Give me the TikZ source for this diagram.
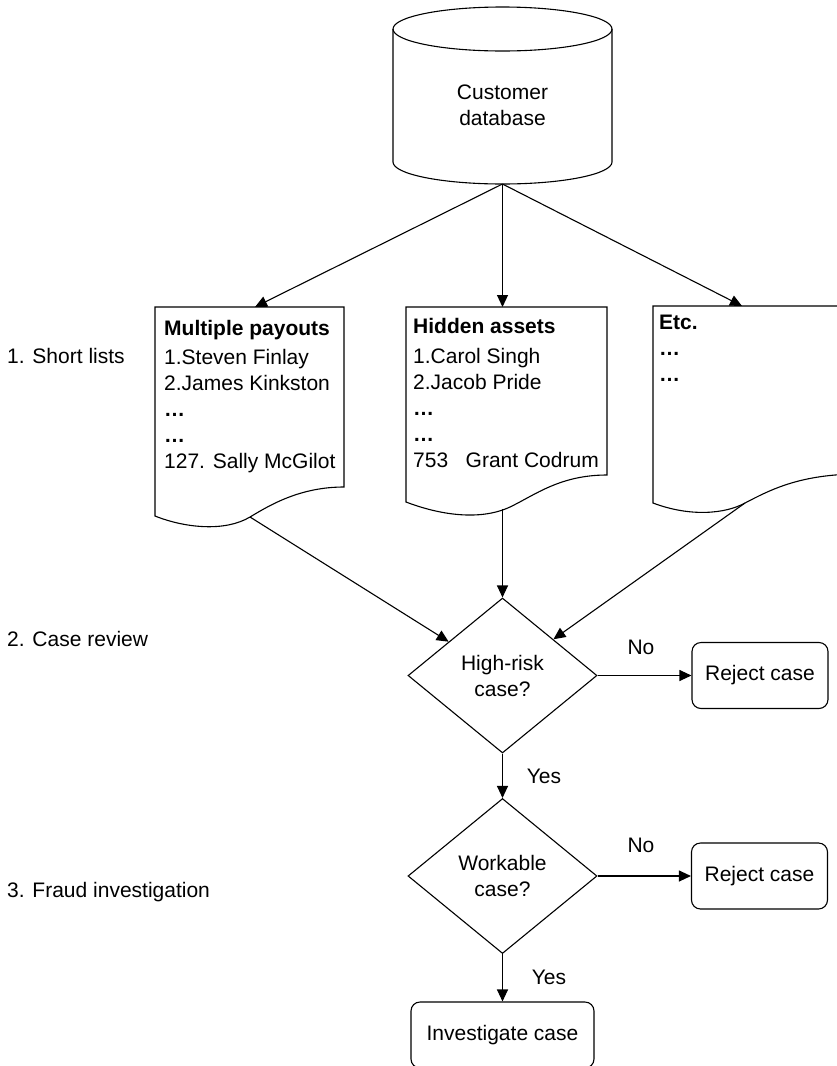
\documentclass[tikz,border=0pt]{standalone}
\usepackage{fontspec}
\setmainfont{Liberation Sans}
\usetikzlibrary{shapes.geometric,arrows.meta}
\begin{document}
\begin{tikzpicture}[x=1pt,y=-1pt,
  txt/.style={font=\fontsize{21}{26}\selectfont, inner sep=0pt},
  outline/.style={draw=black, line width=1.1pt, line join=miter},
  flow/.style={draw=black, line width=1.1pt, -{Triangle[length=12pt,width=11pt]}},
  decision/.style={diamond, draw, line width=1.1pt, minimum width=189pt, minimum height=155pt, inner sep=0pt, align=center, txt},
  outcome/.style={rectangle, rounded corners=9pt, draw, line width=1.1pt, minimum width=136pt, minimum height=66pt, align=center, txt},
  listtext/.style={txt, align=left, anchor=north west},
  stage/.style={txt, anchor=base west},
  answer/.style={txt}]

\useasboundingbox (0,0) rectangle (836,1066);

% customer database (cylinder)
\draw[outline] (393,29) -- (393,162)
  arc[start angle=180, end angle=360, x radius=109.5pt, y radius=22pt] -- (612,29);
\draw[outline] (502.5,29) ellipse [x radius=109.5pt, y radius=22pt];
\node[txt, align=center] (db) at (502.5,105.5) {Customer\\database};
\coordinate (dbbase) at (502.5,184);

% short list documents
\draw[outline] (155,307) -- (344,307) -- (344,487)
  .. controls (300,487) and (270,505) .. (250,517)
  .. controls (225,532) and (185,528) .. (155,516) -- cycle;
\coordinate (t1) at (255,307);
\coordinate (w1) at (250,517);
\node[listtext] (doc1) at (164,320) {\textbf{Multiple payouts}\\[3pt]
  1.Steven Finlay\\2.James Kinkston\\\textbf{…}\\\textbf{…}\\127. Sally McGilot};

\draw[outline] (406,307) -- (607,307) -- (607,475)
  .. controls (560,475) and (535,495) .. (510,507)
  .. controls (480,521) and (440,515) .. (406,502) -- cycle;
\coordinate (t2) at (502.5,307);
\coordinate (w2) at (502.5,509);
\node[listtext] (doc2) at (413,318) {\textbf{Hidden assets}\\[4pt]
  1.Carol Singh\\2.Jacob Pride\\\textbf{…}\\\textbf{…}\\753~~~Grant Codrum};

\draw[outline] (653,306) -- (860,306) -- (860,474)
  .. controls (800,474) and (770,490) .. (745,503)
  .. controls (725,514) and (690,517) .. (653,503) -- cycle;
\coordinate (t3) at (742,306);
\coordinate (w3) at (745,503);
\node[listtext] (doc3) at (659,315) {\textbf{Etc.}\\\textbf{…}\\\textbf{…}};

% decisions and outcomes
\node[decision] (d1) at (502.5,675.5) {High-risk\\case?};
\node[decision] (d2) at (502.5,876) {Workable\\case?};
\node[outcome] (r1) at (760,675.5) {Reject case};
\node[outcome] (r2) at (759.5,876) {Reject case};
\node[outcome, minimum width=183pt] (inv) at (502.5,1035) {Investigate case};

% connectors
\draw[flow] (dbbase) -- (t1);
\draw[flow] (dbbase) -- (t2);
\draw[flow] (dbbase) -- (t3);
\draw[flow] (w1) -- (d1);
\draw[flow] (w2) -- (d1);
\draw[flow] (w3) -- (d1);
\draw[flow] (d1) -- (r1);
\draw[flow] (d1) -- (d2);
\draw[flow] (d2) -- (r2);
\draw[flow] (d2) -- (inv);

\node[answer] (no1) at (641,647) {No};
\node[answer] (yes1) at (544,776) {Yes};
\node[answer] (no2) at (641,845) {No};
\node[answer] (yes2) at (549,977) {Yes};

% stage labels
\node[stage] (s1) at (7,363) {1. Short lists};
\node[stage] (s2) at (7,646) {2. Case review};
\node[stage] (s3) at (7,897) {3. Fraud investigation};
\end{tikzpicture}
\end{document}
